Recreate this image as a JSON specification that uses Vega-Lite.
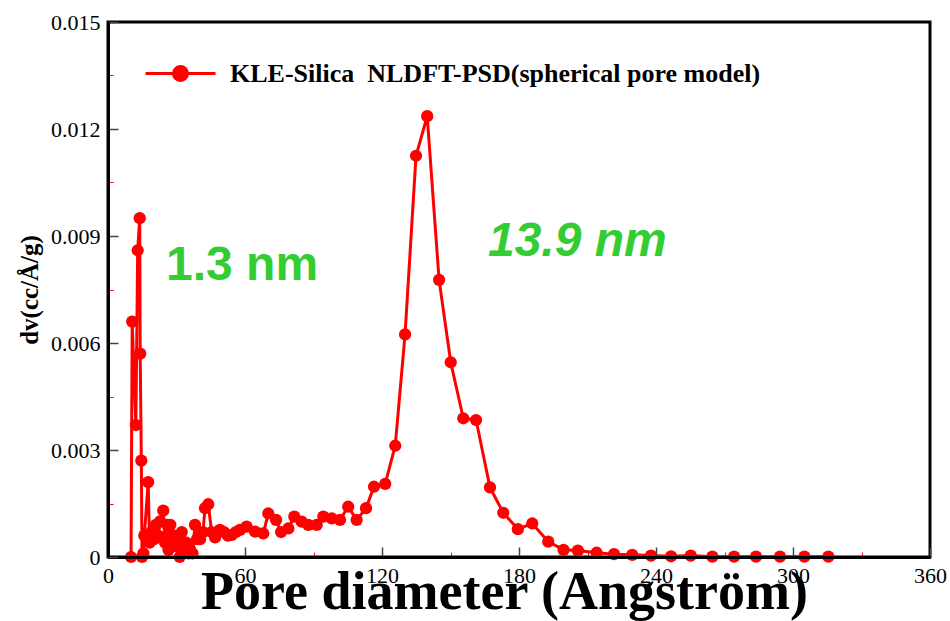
{
  "$schema": "https://vega.github.io/schema/vega-lite/v6.json",
  "width": 822,
  "height": 535,
  "autosize": {"type": "none"},
  "padding": {"left": 108, "top": 22, "right": 20, "bottom": 64},
  "background": "white",
  "config": {
    "view": {"stroke": "black", "strokeWidth": 3},
    "font": "Liberation Serif"
  },
  "datasets": {
    "psd": [
      {"d": 10.1, "dv": 0.0},
      {"d": 10.6, "dv": 0.0066},
      {"d": 12.2, "dv": 0.0037},
      {"d": 13.0, "dv": 0.0086},
      {"d": 13.9, "dv": 0.0095},
      {"d": 14.1, "dv": 0.0057},
      {"d": 14.6, "dv": 0.0027},
      {"d": 14.9, "dv": 0.0},
      {"d": 15.5, "dv": 0.0001},
      {"d": 15.9, "dv": 0.0006},
      {"d": 17.6, "dv": 0.0021},
      {"d": 18.2, "dv": 0.0004},
      {"d": 19.0, "dv": 0.0007},
      {"d": 20.2, "dv": 0.0005},
      {"d": 21.0, "dv": 0.0009},
      {"d": 22.0, "dv": 0.0006},
      {"d": 22.8, "dv": 0.001},
      {"d": 24.2, "dv": 0.0013},
      {"d": 25.0, "dv": 0.0004},
      {"d": 26.0, "dv": 0.0009},
      {"d": 26.5, "dv": 0.0002},
      {"d": 27.3, "dv": 0.0009},
      {"d": 28.0, "dv": 0.0004},
      {"d": 29.0, "dv": 0.0006},
      {"d": 29.8, "dv": 0.0003},
      {"d": 30.3, "dv": 0.0005},
      {"d": 31.4, "dv": 0.0},
      {"d": 32.3, "dv": 0.0007},
      {"d": 33.3, "dv": 0.0003},
      {"d": 34.3, "dv": 0.0004},
      {"d": 35.3, "dv": 0.0001},
      {"d": 36.0, "dv": 0.0002},
      {"d": 37.0, "dv": 0.0001},
      {"d": 38.1, "dv": 0.0009},
      {"d": 39.0, "dv": 0.0005},
      {"d": 40.3, "dv": 0.0005},
      {"d": 41.6, "dv": 0.0007},
      {"d": 42.5, "dv": 0.00137},
      {"d": 43.9, "dv": 0.00148},
      {"d": 45.4, "dv": 0.0007},
      {"d": 46.9, "dv": 0.00055},
      {"d": 49.0, "dv": 0.00076},
      {"d": 50.8, "dv": 0.0007},
      {"d": 52.5, "dv": 0.0006},
      {"d": 54.2, "dv": 0.00062},
      {"d": 56.0, "dv": 0.0007},
      {"d": 57.8, "dv": 0.00076},
      {"d": 60.7, "dv": 0.00085},
      {"d": 64.4, "dv": 0.00071},
      {"d": 68.0, "dv": 0.00066},
      {"d": 70.2, "dv": 0.00122},
      {"d": 73.6, "dv": 0.00104},
      {"d": 75.8, "dv": 0.0007},
      {"d": 79.0, "dv": 0.0008},
      {"d": 81.6, "dv": 0.00113},
      {"d": 84.8, "dv": 0.00099},
      {"d": 87.7, "dv": 0.0009},
      {"d": 91.4, "dv": 0.0009},
      {"d": 94.3, "dv": 0.00113},
      {"d": 98.0, "dv": 0.00108},
      {"d": 101.6, "dv": 0.00104},
      {"d": 105.2, "dv": 0.00141},
      {"d": 108.9, "dv": 0.00104},
      {"d": 113.0, "dv": 0.00137},
      {"d": 116.5, "dv": 0.00197},
      {"d": 121.4, "dv": 0.00205},
      {"d": 125.8, "dv": 0.00312},
      {"d": 130.1, "dv": 0.00624},
      {"d": 134.9, "dv": 0.01125},
      {"d": 139.8, "dv": 0.01236},
      {"d": 145.0, "dv": 0.00777},
      {"d": 150.1, "dv": 0.00546},
      {"d": 155.6, "dv": 0.00389},
      {"d": 161.2, "dv": 0.00384},
      {"d": 167.3, "dv": 0.00195},
      {"d": 173.1, "dv": 0.00124},
      {"d": 179.5, "dv": 0.00078},
      {"d": 185.8, "dv": 0.00094},
      {"d": 192.8, "dv": 0.00043},
      {"d": 199.5, "dv": 0.0002},
      {"d": 205.8, "dv": 0.00018},
      {"d": 214.0, "dv": 0.00012},
      {"d": 221.6, "dv": 0.00008},
      {"d": 229.6, "dv": 0.00006},
      {"d": 237.8, "dv": 0.00004},
      {"d": 246.6, "dv": 0.00002},
      {"d": 255.2, "dv": 0.00004},
      {"d": 264.7, "dv": 0.00001},
      {"d": 274.2, "dv": 0.00001},
      {"d": 283.8, "dv": 0.00001},
      {"d": 294.3, "dv": 0.00001},
      {"d": 305.0, "dv": 0.00001},
      {"d": 315.5, "dv": 0.00001}
    ],
    "notes": [
      {"label": "1.3 nm", "d": 25.4, "dv": 0.00777},
      {"label": "13.9 nm", "d": 166.4, "dv": 0.00844}
    ]
  },
  "layer": [
    {
      "data": {"name": "psd"},
      "mark": {
        "type": "line",
        "strokeWidth": 3,
        "point": {"filled": true, "size": 150, "color": "red", "opacity": 1}
      },
      "encoding": {
        "x": {
          "field": "d",
          "type": "quantitative",
          "scale": {"domain": [0, 360], "nice": false, "zero": false},
          "axis": {
            "values": [0, 30, 60, 90, 120, 150, 180, 210, 240, 270, 300, 330, 360],
            "labelExpr": "datum.value % 60 === 0 ? datum.label : ''",
            "grid": false,
            "zindex": 1,
            "domainColor": "black",
            "domainWidth": 3,
            "tickSize": {"condition": {"test": "datum.value % 60 === 0", "value": -10}, "value": -5},
            "tickColor": {"condition": {"test": "datum.value % 60 === 0", "value": "#444444"}, "value": "red"},
            "tickWidth": {"condition": {"test": "datum.value % 60 === 0", "value": 1.5}, "value": 1},
            "labelFont": "Liberation Serif",
            "labelFontSize": 22,
            "labelColor": "black",
            "labelPadding": 18,
            "labelFlush": false,
            "labelOverlap": false,
            "title": "Pore diameter (Angström)",
            "titleFont": "Liberation Serif",
            "titleFontSize": 54,
            "titleFontWeight": "bold",
            "titleColor": "black",
            "titleX": 396,
            "titleY": 51,
            "titleAlign": "center",
            "titleBaseline": "alphabetic"
          }
        },
        "y": {
          "field": "dv",
          "type": "quantitative",
          "scale": {"domain": [0, 0.015], "nice": false},
          "axis": {
            "values": [0, 0.0015, 0.003, 0.0045, 0.006, 0.0075, 0.009, 0.0105, 0.012, 0.0135, 0.015],
            "labelExpr": "round(datum.value / 0.0015) % 2 === 0 ? (datum.value === 0 ? '0' : format(datum.value, '.3f')) : ''",
            "grid": false,
            "zindex": 1,
            "domainColor": "black",
            "domainWidth": 3,
            "tickSize": {"condition": {"test": "round(datum.value / 0.0015) % 2 === 0", "value": -10}, "value": -5},
            "tickColor": {"condition": {"test": "round(datum.value / 0.0015) % 2 === 0", "value": "#444444"}, "value": "red"},
            "tickWidth": {"condition": {"test": "round(datum.value / 0.0015) % 2 === 0", "value": 1.5}, "value": 1},
            "labelFont": "Liberation Serif",
            "labelFontSize": 22,
            "labelColor": "black",
            "labelPadding": 18,
            "labelFlush": false,
            "labelOverlap": false,
            "title": "dv(cc/Å/g)",
            "titleFont": "Liberation Serif",
            "titleFontSize": 25,
            "titleFontWeight": "bold",
            "titleColor": "black",
            "titleAngle": 270,
            "titleX": -66,
            "titleY": 267.5,
            "titleAlign": "center",
            "titleBaseline": "bottom"
          }
        },
        "color": {
          "datum": "KLE-Silica\u00a0 NLDFT-PSD(spherical pore model)",
          "type": "nominal",
          "scale": {"range": ["red"]},
          "legend": {
            "title": null,
            "orient": "none",
            "legendX": 36,
            "legendY": 15,
            "padding": 0,
            "symbolType": "M-1,0H1M-0.2,0A0.2,0.2,0,1,1,0.2,0A0.2,0.2,0,1,1,-0.2,0Z",
            "symbolSize": 4900,
            "symbolStrokeWidth": 3,
            "symbolFillColor": "red",
            "symbolStrokeColor": "red",
            "labelFont": "Liberation Serif",
            "labelFontSize": 26,
            "labelFontWeight": "bold",
            "labelColor": "black",
            "labelOffset": 13,
            "labelLimit": 800,
            "encode": {
              "symbols": {"update": {"fill": {"value": "red"}, "stroke": {"value": "red"}, "opacity": {"value": 1}}}
            }
          }
        }
      }
    },
    {
      "data": {"name": "notes"},
      "transform": [{"filter": "datum.label === '1.3 nm'"}],
      "mark": {"type": "text", "align": "left", "baseline": "alphabetic", "font": "Liberation Sans", "fontSize": 48, "fontWeight": "bold", "color": "#33cc33"},
      "encoding": {
        "x": {"field": "d", "type": "quantitative"},
        "y": {"field": "dv", "type": "quantitative"},
        "text": {"field": "label"}
      }
    },
    {
      "data": {"name": "notes"},
      "transform": [{"filter": "datum.label === '13.9 nm'"}],
      "mark": {"type": "text", "align": "left", "baseline": "alphabetic", "font": "Liberation Sans", "fontSize": 48, "fontWeight": "bold", "fontStyle": "italic", "color": "#33cc33"},
      "encoding": {
        "x": {"field": "d", "type": "quantitative"},
        "y": {"field": "dv", "type": "quantitative"},
        "text": {"field": "label"}
      }
    }
  ]
}
